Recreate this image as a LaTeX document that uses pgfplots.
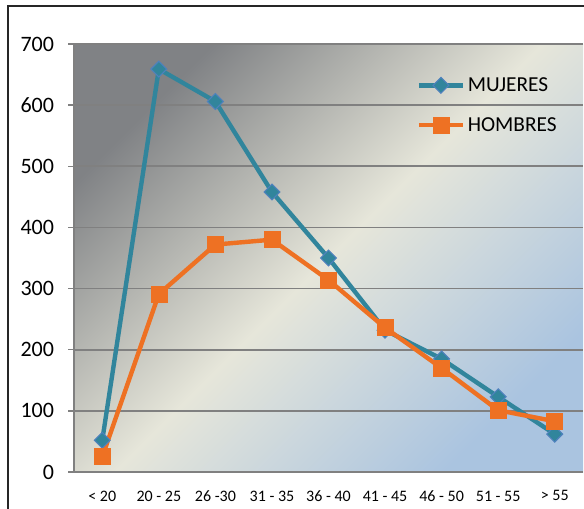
\documentclass[border=0pt]{standalone}
\usepackage{pgfplots}
\pgfplotsset{compat=1.18}
\usepackage{fontspec}
\setmainfont{Carlito}
\definecolor{mteal}{RGB}{49,133,156}
\definecolor{mblue}{RGB}{79,129,189}
\definecolor{horange}{RGB}{238,113,35}
\definecolor{bgdark}{RGB}{128,130,133}
\definecolor{bgmid}{RGB}{230,230,218}
\definecolor{bgblue}{RGB}{170,196,224}
\definecolor{gridgray}{RGB}{128,128,128}
\begin{document}
\begin{tikzpicture}
\useasboundingbox (0,0) rectangle (438pt,381pt);
\clip (0,0) rectangle (438pt,381pt);
\draw[black!85, line width=0.8pt] (6pt,-20pt) rectangle (470pt,376.5pt);
\begin{axis}[
  at={(55.5pt,27pt)}, anchor=south west,
  scale only axis, width=381.75pt, height=321pt,
  xmin=-0.5, xmax=8.5, ymin=0, ymax=700,
  axis background/.style={top color=bgdark, bottom color=bgblue, middle color=bgmid, shading angle=45},
  axis x line*=bottom, axis y line*=left,
  axis line style={gridgray, line width=1pt},
  xtick={0,...,8},
  xticklabels={{< 20},{20 - 25},{26 -30},{31 - 35},{36 - 40},{41 - 45},{46 - 50},{51 - 55},{> 55}},
  minor xtick={-0.5,0.5,...,8.5},
  xtick style={draw=none},
  minor x tick style={gridgray, line width=1pt},
  minor tick length=4.5pt,
  ytick={0,100,...,700},
  ytick style={gridgray, line width=1pt},
  major tick length=4.5pt,
  tick align=outside,
  ymajorgrids, grid style={gridgray, line width=1.2pt},
  /pgf/number format/assume math mode=true,
  yticklabel style={font=\fontsize{16.5}{19}\selectfont, xshift=-7pt},
  xticklabel style={font=\fontsize{12}{14}\selectfont, yshift=-6pt},
  legend style={draw=none, fill=none, at={(0.665,0.935)}, anchor=north west,
    font=\fontsize{16}{19}\selectfont, row sep=14pt},
  legend cell align=left,
  legend image code/.code={\draw[#1, mark repeat=2, mark phase=2] plot coordinates {(0pt,0pt) (16.5pt,0pt) (33pt,0pt)};},
]
\addplot[mteal, line width=3.3pt, mark=square*, mark size=4.2pt,
  mark options={rotate=45, fill=mteal, draw=mblue, line width=0.8pt}]
  coordinates {(0,52) (1,659) (2,606) (3,458) (4,350) (5,232) (6,185) (7,123) (8,62)};
\addlegendentry{MUJERES}
\addplot[horange, line width=3.3pt, mark=square*, mark size=6pt,
  mark options={fill=horange, draw=horange, line width=0.5pt}]
  coordinates {(0,25) (1,291) (2,372) (3,380) (4,314) (5,236) (6,170) (7,101) (8,83)};
\addlegendentry{HOMBRES}
\end{axis}
\end{tikzpicture}
\end{document}
